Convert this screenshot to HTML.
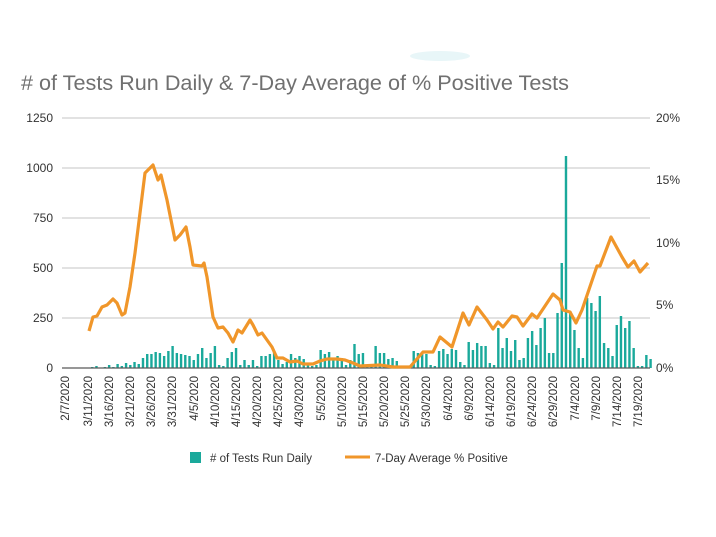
<!DOCTYPE html>
<html><head><meta charset="utf-8"><style>
html,body{margin:0;padding:0;background:#fff;}
svg{display:block;font-family:"Liberation Sans",sans-serif;}
</style></head><body>
<svg width="716" height="537" viewBox="0 0 716 537">
<rect width="716" height="537" fill="#fff"/>
<ellipse cx="440" cy="56" rx="30" ry="5" fill="#e8f6f8"/>
<text x="21" y="90" font-size="21" fill="#707070" textLength="548" lengthAdjust="spacingAndGlyphs">#  of Tests Run Daily &amp; 7-Day Average of % Positive Tests</text>
<g stroke="#d9d9d9" stroke-width="1.5">
<line x1="62" y1="118" x2="650" y2="118"/><line x1="62" y1="168" x2="650" y2="168"/><line x1="62" y1="218" x2="650" y2="218"/><line x1="62" y1="268" x2="650" y2="268"/><line x1="62" y1="318" x2="650" y2="318"/>
</g>
<g font-size="12" fill="#333" text-anchor="end">
<text x="53" y="122">1250</text><text x="53" y="172">1000</text><text x="53" y="222">750</text><text x="53" y="272">500</text><text x="53" y="322">250</text><text x="53" y="372">0</text>
</g>
<g font-size="12" fill="#333">
<text x="656" y="122">20%</text><text x="656" y="184">15%</text><text x="656" y="247">10%</text><text x="656" y="309">5%</text><text x="656" y="372">0%</text>
</g>
<path stroke="#1aa99b" stroke-width="2.4" fill="none" d="M88,368 v-0 m4.23,0 v-1 m4.23,1 v-2 m4.23,2 v-0 m4.23,0 v-1 m4.23,1 v-3 m4.23,3 v-1 m4.23,1 v-4 m4.23,4 v-2 m4.23,2 v-5 m4.23,5 v-3 m4.23,3 v-6 m4.23,6 v-4 m4.23,4 v-10 m4.23,10 v-14 m4.23,14 v-14 m4.23,14 v-16 m4.23,16 v-15 m4.23,15 v-12 m4.23,12 v-17 m4.23,17 v-22 m4.23,22 v-15 m4.23,15 v-14 m4.23,14 v-13 m4.23,13 v-12 m4.23,12 v-8 m4.23,8 v-14 m4.23,14 v-20 m4.23,20 v-10 m4.23,10 v-15 m4.23,15 v-22 m4.23,22 v-3 m4.23,3 v-2 m4.23,2 v-10 m4.23,10 v-16 m4.23,16 v-20 m4.23,20 v-3 m4.23,3 v-8 m4.23,8 v-3 m4.23,3 v-8 m4.23,8 v-2 m4.23,2 v-12 m4.23,12 v-12 m4.23,12 v-14 m4.23,14 v-16 m4.23,16 v-8 m4.23,8 v-4 m4.23,4 v-6 m4.23,6 v-14 m4.23,14 v-10 m4.23,10 v-12 m4.23,12 v-9 m4.23,9 v-5 m4.23,5 v-2 m4.23,2 v-3 m4.23,3 v-18 m4.23,18 v-14 m4.23,14 v-16 m4.23,16 v-9 m4.23,9 v-12 m4.23,12 v-10 m4.23,10 v-3 m4.23,3 v-8 m4.23,8 v-24 m4.23,24 v-14 m4.23,14 v-15 m4.23,15 v-3 m4.23,3 v-1 m4.23,1 v-22 m4.23,22 v-15 m4.23,15 v-15 m4.23,15 v-9 m4.23,9 v-10 m4.23,10 v-7 m4.23,7 v-1 m4.23,1 v-2 m4.23,2 v-1 m4.23,1 v-17 m4.23,17 v-15 m4.23,15 v-16 m4.23,16 v-14 m4.23,14 v-3 m4.23,3 v-2 m4.23,2 v-17 m4.23,17 v-19 m4.23,19 v-14 m4.23,14 v-19 m4.23,19 v-18 m4.23,18 v-6 m4.23,6 v-3 m4.23,3 v-26 m4.23,26 v-18 m4.23,18 v-25 m4.23,25 v-22 m4.23,22 v-22 m4.23,22 v-5 m4.23,5 v-3 m4.23,3 v-40 m4.23,40 v-20 m4.23,20 v-30 m4.23,30 v-17 m4.23,17 v-28 m4.23,28 v-8 m4.23,8 v-10 m4.23,10 v-30 m4.23,30 v-37 m4.23,37 v-23 m4.23,23 v-40 m4.23,40 v-50 m4.23,50 v-15 m4.23,15 v-15 m4.23,15 v-55 m4.23,55 v-105 m4.23,105 v-212 m4.23,212 v-57 m4.23,57 v-38 m4.23,38 v-20 m4.23,20 v-10 m4.23,10 v-70 m4.23,70 v-65 m4.23,65 v-57 m4.23,57 v-72 m4.23,72 v-25 m4.23,25 v-20 m4.23,20 v-12 m4.23,12 v-43 m4.23,43 v-52 m4.23,52 v-40 m4.23,40 v-47 m4.23,47 v-20 m4.23,20 v-2 m4.23,2 v-2 m4.23,2 v-13 m4.23,13 v-9"/>
<line x1="62" y1="368" x2="650" y2="368" stroke="#595959" stroke-width="1.2"/>
<polyline fill="none" stroke="#f0962a" stroke-width="3.2" stroke-linejoin="round" points="89,331 93,317 97,316 102,307 107,305 113,299 117,303 122,315 125,313 130,287 135,253 140,213 145,173 150,168 153,165 158,180 161,175 167,200 175,240 180,235 186,227 190,247 193,265 202,266 204,263 207,277 213,317 218,328 223,327 228,333 233,342 238,330 242,333 250,320 253,325 258,335 262,333 267,340 272,347 277,358 283,358 290,362 297,361 303,364 313,364 320,361 327,359 337,359 345,360 353,363 360,366 380,365 393,367 410,367 423,352 433,352 440,337 452,347 463,313 469,325 477,307 487,320 493,329 498,322 503,327 512,316 517,317 523,326 532,314 537,318 553,294 560,300 563,310 570,312 576,323 582,310 597,266 600,266 611,237 622,257 628,267 634,261 640,272 648,263"/>
<g font-size="11.5" fill="#333" text-anchor="end">
<text transform="translate(69,376) rotate(-90)">2/7/2020</text>
<text transform="translate(92,376) rotate(-90)">3/11/2020</text>
<text transform="translate(113,376) rotate(-90)">3/16/2020</text>
<text transform="translate(134,376) rotate(-90)">3/21/2020</text>
<text transform="translate(155,376) rotate(-90)">3/26/2020</text>
<text transform="translate(176,376) rotate(-90)">3/31/2020</text>
<text transform="translate(198,376) rotate(-90)">4/5/2020</text>
<text transform="translate(219,376) rotate(-90)">4/10/2020</text>
<text transform="translate(240,376) rotate(-90)">4/15/2020</text>
<text transform="translate(261,376) rotate(-90)">4/20/2020</text>
<text transform="translate(282,376) rotate(-90)">4/25/2020</text>
<text transform="translate(303,376) rotate(-90)">4/30/2020</text>
<text transform="translate(325,376) rotate(-90)">5/5/2020</text>
<text transform="translate(346,376) rotate(-90)">5/10/2020</text>
<text transform="translate(367,376) rotate(-90)">5/15/2020</text>
<text transform="translate(388,376) rotate(-90)">5/20/2020</text>
<text transform="translate(409,376) rotate(-90)">5/25/2020</text>
<text transform="translate(430,376) rotate(-90)">5/30/2020</text>
<text transform="translate(452,376) rotate(-90)">6/4/2020</text>
<text transform="translate(473,376) rotate(-90)">6/9/2020</text>
<text transform="translate(494,376) rotate(-90)">6/14/2020</text>
<text transform="translate(515,376) rotate(-90)">6/19/2020</text>
<text transform="translate(536,376) rotate(-90)">6/24/2020</text>
<text transform="translate(557,376) rotate(-90)">6/29/2020</text>
<text transform="translate(579,376) rotate(-90)">7/4/2020</text>
<text transform="translate(600,376) rotate(-90)">7/9/2020</text>
<text transform="translate(621,376) rotate(-90)">7/14/2020</text>
<text transform="translate(642,376) rotate(-90)">7/19/2020</text>
</g>
<rect x="190" y="452" width="11" height="11" fill="#1aa99b"/>
<text x="210" y="462" font-size="11.5" fill="#333">#  of Tests Run Daily</text>
<line x1="345" y1="457" x2="370" y2="457" stroke="#f0962a" stroke-width="3"/>
<text x="375" y="462" font-size="11.5" fill="#333">7-Day Average % Positive</text>
</svg>
</body></html>
